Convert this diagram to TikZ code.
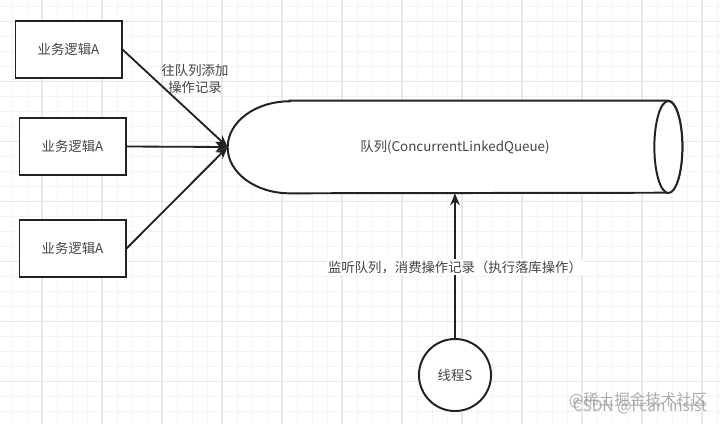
\documentclass[tikz,border=0pt]{standalone}
\usepackage{fontspec}
\setmainfont{Noto Sans CJK SC}
\usepackage{xcolor}
\usetikzlibrary{arrows.meta, positioning, calc, backgrounds}
\definecolor{GridMinor}{HTML}{F4F4F4}
\definecolor{GridMajor}{HTML}{E8E8E8}
\definecolor{LineDark}{HTML}{222222}
\definecolor{TextGray}{HTML}{444444}
\definecolor{MarkGray}{HTML}{9A9A9A}
\newcommand{\diagfont}{\fontsize{9.5}{12}\selectfont}
\newcommand{\markfont}{\fontsize{11}{12}\selectfont}
\tikzset{
    % Box styles
    logic/.style={
        rectangle,
        draw=LineDark,
        fill=white,
        line width=1.4pt,
        minimum width=2.65cm,
        minimum height=1.42cm,
        align=center,
        text=TextGray,
        font=\diagfont
    },
    thread/.style={
        circle,
        draw=LineDark,
        fill=white,
        line width=1.4pt,
        minimum size=1.8cm,
        inner sep=0pt,
        align=center,
        text=TextGray,
        font=\diagfont
    },
    queuebody/.style={
        rectangle,
        minimum width=11.35cm,
        minimum height=2.3cm,
        inner sep=0pt,
        text=TextGray,
        font=\diagfont
    },
    outline/.style={
        draw=LineDark,
        line width=1.4pt,
        fill=white
    },
    caption/.style={
        align=center,
        text=TextGray,
        font=\diagfont,
        inner sep=1pt
    },
    watermark/.style={
        text=MarkGray,
        text opacity=0.8,
        font=\markfont,
        inner sep=0pt
    },
    % Arrow styles
    arrow/.style={
        -{Stealth[length=0.3cm, width=0.24cm]},
        line width=1.3pt,
        draw=LineDark
    },
    % Grid styles
    gridminor/.style={draw=GridMinor, line width=0.6pt},
    gridmajor/.style={draw=GridMajor, line width=0.8pt}
}

\begin{document}
\begin{tikzpicture}[x=0.025cm, y=0.025cm]
    \useasboundingbox (0,0) rectangle (720,424);

    % Grid paper
    \begin{scope}[on background layer]
        \fill[white] (0,0) rectangle (720,424);
        \foreach \gx in {12,27,...,717} \draw[gridminor] (\gx,0) -- (\gx,424);
        \foreach \gy in {12.3,27.3,...,417.3} \draw[gridminor] (0,\gy) -- (720,\gy);
        \foreach \gx in {42,102,...,702} \draw[gridmajor] (\gx,0) -- (\gx,424);
        \foreach \gy in {42.3,102.3,...,402.3} \draw[gridmajor] (0,\gy) -- (720,\gy);
    \end{scope}

    % Business logic boxes
    \node[logic] (biz1) at (68.5,374.5) {业务逻辑A};
    \node[logic] (biz2) at (72.5,277.5) {业务逻辑A};
    \node[logic] (biz3) at (72.5,175.5) {业务逻辑A};

    % Queue (cylinder lying down)
    \node[queuebody] (queue) at (455,277) {队列(ConcurrentLinkedQueue)};
    \begin{scope}[on background layer]
        \draw[outline] ($(queue.north west)+(62,0)$) -- ($(queue.north east)+(-14,0)$)
            arc[start angle=90, end angle=-90, x radius=14, y radius=46]
            -- ($(queue.south west)+(62,0)$)
            arc[start angle=270, end angle=90, x radius=62, y radius=46] -- cycle;
        \draw[outline] ($(queue.east)+(-14,0)$) ellipse[x radius=14, y radius=46];
    \end{scope}

    % Producers add records
    \draw[arrow] (biz1.east) -- (queue.west);
    \draw[arrow] (biz2.east) -- (queue.west);
    \draw[arrow] (biz3.east) -- (queue.west);
    \node[caption] (addnote) at (195,345) {往队列添加\\操作记录};

    % Consumer thread
    \node[thread] (thr) at (455,49) {线程S};
    \draw[arrow] (thr.north) -- (thr.north |- queue.south)
        node[caption, fill=white, pos=0.49] (consume) {监听队列，消费操作记录（执行落库操作）};

    % Watermarks
    \node[watermark] (juejin) at (638,24) {@稀土掘金技术社区};
    \node[watermark] (csdn) at (640,17) {CSDN @I can insist};
\end{tikzpicture}
\end{document}
